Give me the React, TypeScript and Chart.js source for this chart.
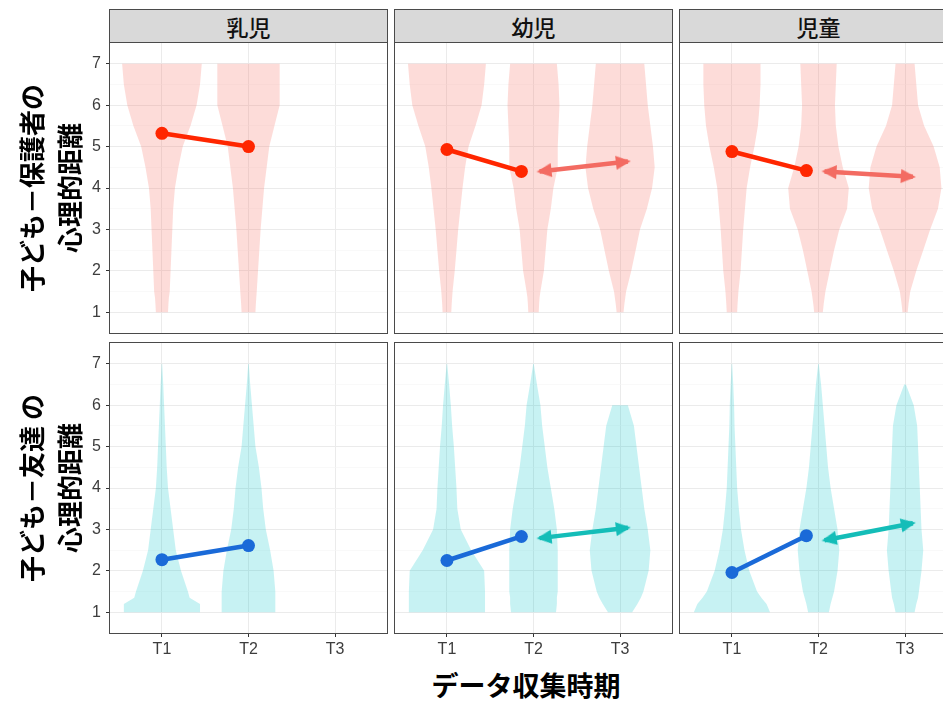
import React, { useEffect, useRef } from 'react';
import { Chart, registerables } from 'chart.js';
Chart.register(...registerables);

// ---------- text ----------
const AGE_GROUPS = ['乳児', '幼児', '児童'];
const TIME_LABELS = ['T1', 'T2', 'T3'];
const TIME_VALUES = [1, 2, 3];
const Y_MAJOR = [1, 2, 3, 4, 5, 6, 7];
const Y_MINOR = [1.5, 2.5, 3.5, 4.5, 5.5, 6.5];
const ROW_TITLES = [
  ['子ども－保護者の', '心理的距離'],
  ['子ども－友達 の', '心理的距離'],
];
const X_TITLE = 'データ収集時期';

// ---------- mean values (per age group: 乳児, 幼児, 児童) ----------
const parentT12 = [[5.32, 5.0], [4.93, 4.4], [4.88, 4.42]];
const parentT23 = [null, [4.4, 4.64], [4.4, 4.27]];
const friendT12 = [[2.27, 2.61], [2.25, 2.83], [1.96, 2.85]];
const friendT23 = [null, [2.79, 3.04], [2.74, 3.15]];
// horizontal dodge of segment end points (time units)
const T12_END_DODGE = [0, -0.14, -0.14];
const T23_START_DODGE = 0.07;
const T23_END_DODGE = 0.09;

// ---------- violin half-widths (time units) at VIOLIN_Y levels; index = T1, T2, T3 ----------
const VIOLIN_Y = [1, 1.2, 1.35, 1.5, 2, 2.5, 3, 3.5, 4, 4.5, 5, 5.5, 6, 6.5, 7];
const parentInfantViolins = [
  [0.07, 0.075, 0.08, 0.09, 0.1, 0.11, 0.12, 0.13, 0.15, 0.19, 0.24, 0.33, 0.4, 0.44, 0.46],
  [0.08, 0.085, 0.09, 0.095, 0.11, 0.125, 0.14, 0.16, 0.18, 0.21, 0.24, 0.3, 0.36, 0.36, 0.36],
  null,
];
const parentToddlerViolins = [
  [0.05, 0.055, 0.06, 0.065, 0.09, 0.11, 0.13, 0.155, 0.18, 0.21, 0.25, 0.33, 0.4, 0.43, 0.45],
  [0.06, 0.065, 0.07, 0.08, 0.12, 0.14, 0.16, 0.2, 0.23, 0.28, 0.28, 0.29, 0.3, 0.29, 0.27],
  [0.04, 0.05, 0.06, 0.07, 0.13, 0.18, 0.23, 0.31, 0.37, 0.4, 0.38, 0.35, 0.32, 0.3, 0.28],
];
const parentChildViolins = [
  [0.06, 0.065, 0.07, 0.075, 0.1, 0.115, 0.13, 0.15, 0.17, 0.21, 0.26, 0.3, 0.32, 0.33, 0.33],
  [0.05, 0.06, 0.07, 0.08, 0.13, 0.18, 0.24, 0.33, 0.35, 0.28, 0.23, 0.2, 0.19, 0.2, 0.21],
  [0.03, 0.04, 0.05, 0.06, 0.13, 0.21, 0.29, 0.38, 0.42, 0.4, 0.33, 0.22, 0.15, 0.13, 0.11],
];
const friendInfantViolins = [
  [0.44, 0.44, 0.32, 0.3, 0.22, 0.16, 0.13, 0.1, 0.07, 0.055, 0.045, 0.035, 0.025, 0.015, 0.003],
  [0.31, 0.31, 0.31, 0.31, 0.29, 0.25, 0.2, 0.17, 0.15, 0.12, 0.08, 0.06, 0.04, 0.02, 0.003],
  null,
];
const friendToddlerViolins = [
  [0.44, 0.44, 0.44, 0.44, 0.43, 0.28, 0.16, 0.12, 0.11, 0.095, 0.08, 0.06, 0.045, 0.025, 0.003],
  [0.26, 0.27, 0.27, 0.28, 0.28, 0.28, 0.27, 0.24, 0.2, 0.16, 0.13, 0.1, 0.08, 0.04, 0.003],
  [0.14, 0.2, 0.24, 0.27, 0.33, 0.35, 0.32, 0.28, 0.25, 0.22, 0.19, 0.16, 0.09, null, null],
];
const friendChildViolins = [
  [0.44, 0.4, 0.34, 0.29, 0.2, 0.145, 0.105, 0.08, 0.06, 0.05, 0.04, 0.03, 0.025, 0.015, 0.003],
  [0.12, 0.14, 0.16, 0.18, 0.22, 0.24, 0.22, 0.18, 0.14, 0.11, 0.09, 0.07, 0.05, 0.03, 0.003],
  [0.11, 0.13, 0.15, 0.16, 0.19, 0.21, 0.19, 0.18, 0.17, 0.16, 0.15, 0.14, 0.1, 0.01, null],
];

// ---------- styles ----------
const ROW_STYLE = [
  { t12: '#FF2600', t23: '#F36B62', violin: 'rgba(248,118,109,0.26)' },
  { t12: '#1A6AD8', t23: '#14BDB8', violin: 'rgba(0,195,200,0.22)' },
];
const PLOT_LEFT = [110, 395, 680];
const PLOT_TOP = [43, 343];
const PLOT_W = 277;
const PLOT_H = 290;
const Y_AXIS_W = 36;
const X_AXIS_H = 30;
const BORDER = '#4A4A4A';
const TICK_FONT = { family: '"Liberation Sans", Arial, sans-serif', size: 16 };
const CJK = '"Noto Sans CJK JP", "Noto Sans", sans-serif';

function makeArrowHead(color: string) {
  const S = 18;
  const c = document.createElement('canvas');
  c.width = 2 * S;
  c.height = 2 * S;
  const g = c.getContext('2d')!;
  g.fillStyle = color;
  g.beginPath();
  g.moveTo(S, S - 3);
  g.lineTo(S - 7, S + 12);
  g.lineTo(S + 7, S + 12);
  g.closePath();
  g.fill();
  return c;
}

function Panel({ row, col }: { row: number; col: number }) {
  const ref = useRef<HTMLCanvasElement>(null);
  const yAxisW = col === 0 ? Y_AXIS_W : 0;
  const xAxisH = row === 1 ? X_AXIS_H : 0;
  const left = PLOT_LEFT[col] - yAxisW - 1;
  const top = PLOT_TOP[row] - 1;
  const width = PLOT_W + yAxisW + 2;
  const height = PLOT_H + xAxisH + 2;

  useEffect(() => {
    const style = ROW_STYLE[row];
    const t12 = (row === 0 ? parentT12 : friendT12)[col];
    const t23 = (row === 0 ? parentT23 : friendT23)[col];
    const violins = row === 0
      ? [parentInfantViolins, parentToddlerViolins, parentChildViolins][col]
      : [friendInfantViolins, friendToddlerViolins, friendChildViolins][col];

    const datasets: any[] = [
      {
        data: [
          { x: TIME_VALUES[0], y: t12[0] },
          { x: TIME_VALUES[1] + T12_END_DODGE[col], y: t12[1] },
        ],
        borderColor: style.t12,
        backgroundColor: style.t12,
        borderWidth: 4.5,
        pointStyle: 'circle',
        pointRadius: 6.5,
        pointBorderWidth: 0,
        pointBackgroundColor: style.t12,
        tension: 0,
      },
    ];
    if (t23) {
      datasets.push({
        data: [
          { x: TIME_VALUES[1] + T23_START_DODGE, y: t23[0] },
          { x: TIME_VALUES[2] + T23_END_DODGE, y: t23[1] },
        ],
        borderColor: style.t23,
        backgroundColor: style.t23,
        borderWidth: 4.5,
        pointStyle: makeArrowHead(style.t23),
        pointRadius: 8,
        pointBorderWidth: 0,
        tension: 0,
        pointRotation: (c: any) => {
          const ch = c.chart;
          const i = c.dataIndex;
          if (i == null || !ch.scales || !ch.scales.x) return 0;
          const d = ch.data.datasets[c.datasetIndex].data;
          const a = d[i];
          const b = d[1 - i];
          const dx = ch.scales.x.getPixelForValue(a.x) - ch.scales.x.getPixelForValue(b.x);
          const dy = ch.scales.y.getPixelForValue(a.y) - ch.scales.y.getPixelForValue(b.y);
          return (Math.atan2(dx, -dy) * 180) / Math.PI;
        },
      });
    }

    const violinPlugin = {
      id: 'violins',
      beforeDatasetsDraw(chart: any) {
        const { ctx, chartArea, scales } = chart;
        const xs = scales.x;
        const ys = scales.y;
        ctx.save();
        ctx.beginPath();
        ctx.rect(chartArea.left, chartArea.top, chartArea.width, chartArea.height);
        ctx.clip();
        ctx.fillStyle = style.violin;
        violins.forEach((widths: (number | null)[] | null, i: number) => {
          if (!widths) return;
          const t = TIME_VALUES[i];
          const pts = VIOLIN_Y.map((yv, k) => [yv, widths[k]] as [number, number | null]).filter(
            (p) => p[1] != null,
          ) as [number, number][];
          ctx.beginPath();
          pts.forEach(([yv, w], k) => {
            const px = xs.getPixelForValue(t + w);
            const py = ys.getPixelForValue(yv);
            if (k === 0) ctx.moveTo(px, py);
            else ctx.lineTo(px, py);
          });
          for (let k = pts.length - 1; k >= 0; k--) {
            ctx.lineTo(xs.getPixelForValue(t - pts[k][1]), ys.getPixelForValue(pts[k][0]));
          }
          ctx.closePath();
          ctx.fill();
        });
        ctx.restore();
      },
    };

    const borderPlugin = {
      id: 'panelBorder',
      afterDraw(chart: any) {
        const { ctx, chartArea } = chart;
        ctx.save();
        ctx.strokeStyle = BORDER;
        ctx.lineWidth = 1;
        ctx.strokeRect(chartArea.left - 0.5, chartArea.top - 0.5, chartArea.width + 1, chartArea.height + 1);
        ctx.restore();
      },
    };

    const isMajor = (v: number) => Y_MAJOR.includes(v);

    const chart = new Chart(ref.current!, {
      type: 'line',
      data: { datasets },
      plugins: [violinPlugin, borderPlugin],
      options: {
        animation: false,
        responsive: false,
        maintainAspectRatio: false,
        events: [],
        layout: { padding: 1, autoPadding: false },
        plugins: { legend: { display: false }, tooltip: { enabled: false } },
        scales: {
          x: {
            type: 'linear',
            min: 0.4,
            max: 3.6,
            afterBuildTicks: (s: any) => {
              s.ticks = TIME_VALUES.map((v) => ({ value: v }));
            },
            afterFit: (s: any) => {
              s.height = xAxisH;
              s.paddingLeft = 0;
              s.paddingRight = 0;
            },
            ticks: {
              display: row === 1,
              autoSkip: false,
              maxRotation: 0,
              padding: 3,
              color: '#3D3D3D',
              font: TICK_FONT,
              callback: (v: any) => TIME_LABELS[TIME_VALUES.indexOf(Number(v))],
            },
            grid: {
              color: '#EBEBEB',
              lineWidth: 1,
              drawTicks: row === 1,
              tickLength: 4,
              tickColor: '#333333',
            },
            border: { display: false },
          },
          y: {
            type: 'linear',
            min: 0.5,
            max: 7.5,
            afterBuildTicks: (s: any) => {
              s.ticks = [...Y_MAJOR, ...Y_MINOR].sort((a, b) => a - b).map((v) => ({ value: v }));
            },
            afterFit: (s: any) => {
              s.width = yAxisW;
              s.paddingTop = 0;
              s.paddingBottom = 0;
            },
            ticks: {
              display: col === 0,
              autoSkip: false,
              padding: 5,
              color: '#3D3D3D',
              font: TICK_FONT,
              callback: (v: any) => (isMajor(Number(v)) ? String(v) : ''),
            },
            grid: {
              color: (c: any) => (c.tick && isMajor(c.tick.value) ? '#EBEBEB' : '#F5F5F5'),
              lineWidth: (c: any) => (c.tick && isMajor(c.tick.value) ? 1 : 0.6),
              drawTicks: col === 0,
              tickLength: 4,
              tickColor: (c: any) => (c.tick && isMajor(c.tick.value) ? '#333333' : 'rgba(0,0,0,0)'),
            },
            border: { display: false },
          },
        },
      } as any,
    } as any);
    return () => chart.destroy();
  }, [row, col]);

  return (
    <canvas
      ref={ref}
      width={width}
      height={height}
      style={{ position: 'absolute', left, top, width, height }}
    />
  );
}

export default function App() {
  return (
    <div
      style={{
        position: 'absolute',
        left: 0,
        top: 0,
        width: 943,
        height: 701,
        overflow: 'hidden',
        background: '#ffffff',
      }}
    >
      {AGE_GROUPS.map((g, c) => (
        <div
          key={g}
          style={{
            position: 'absolute',
            left: PLOT_LEFT[c] - 1,
            top: 9,
            width: PLOT_W + 2,
            height: 34,
            boxSizing: 'border-box',
            background: '#D9D9D9',
            border: `1px solid ${BORDER}`,
            display: 'flex',
            alignItems: 'center',
            justifyContent: 'center',
            fontFamily: CJK,
            fontSize: 22,
            fontWeight: 500,
            color: '#111111',
          }}
        >
          {g}
        </div>
      ))}
      {[0, 1].map((r) => [0, 1, 2].map((c) => <Panel key={`${r}-${c}`} row={r} col={c} />))}
      {ROW_TITLES.map((lines, r) => (
        <div
          key={r}
          style={{
            position: 'absolute',
            left: 50 - 150,
            top: (r === 0 ? 188 : 488) - 38,
            width: 300,
            height: 76,
            lineHeight: '38px',
            transform: 'rotate(-90deg)',
            transformOrigin: '50% 50%',
            textAlign: 'center',
            fontFamily: CJK,
            fontWeight: 'bold',
            fontSize: 26,
            color: '#000',
            whiteSpace: 'nowrap',
          }}
        >
          {lines[0]}
          <br />
          {lines[1]}
        </div>
      ))}
      <div
        style={{
          position: 'absolute',
          left: 526 - 200,
          top: 668,
          width: 400,
          height: 34,
          lineHeight: '34px',
          textAlign: 'center',
          fontFamily: CJK,
          fontWeight: 'bold',
          fontSize: 27,
          color: '#000',
          whiteSpace: 'nowrap',
        }}
      >
        {X_TITLE}
      </div>
    </div>
  );
}
